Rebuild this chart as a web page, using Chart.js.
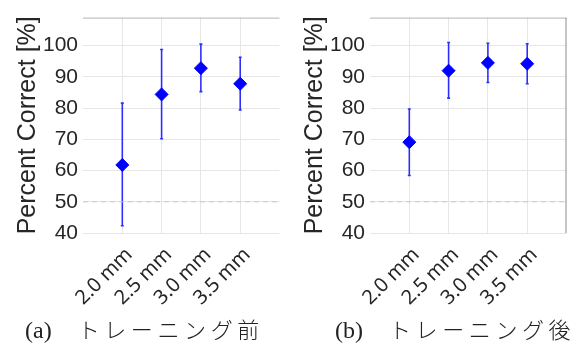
<!DOCTYPE html>
<html>
<head>
<meta charset="utf-8">
<script src="https://cdn.jsdelivr.net/npm/chart.js@4"></script>
<style>
  body { margin: 0; background: #fff; width: 574px; height: 349px; position: relative; overflow: hidden; }
  canvas { position: absolute; top: 0; }
  #chartA { left: 0; }
  #chartB { left: 287px; }
  .caption { position: absolute; top: 312px; font: 24px "Liberation Serif", "Noto Sans CJK JP", serif; color: #222; white-space: nowrap; }
  .caption .jp { font-family: "Noto Sans CJK JP", sans-serif; font-size: 22px; font-weight: 300; letter-spacing: 4.6px; margin-left: 26px; }
  #capA { left: 25px; }
  #capB { left: 335px; }
</style>
</head>
<body>
<canvas id="chartA" width="287" height="349"></canvas>
<canvas id="chartB" width="287" height="349"></canvas>
<div class="caption" id="capA">(a)<span class="jp">トレーニング前</span></div>
<div class="caption" id="capB">(b)<span class="jp">トレーニング後</span></div>
<script>
// dot diameters tested
const sizes = ["2.0 mm", "2.5 mm", "3.0 mm", "3.5 mm"];

// (a) before training
const beforeMean = [61.8, 84.4, 92.8, 87.8];
const beforeLow = [42.3, 70.2, 85.3, 79.4];
const beforeHigh = [81.6, 98.8, 100.5, 96.3];

// (b) after training
const afterMean = [69.1, 92.0, 94.5, 94.2];
const afterLow = [58.4, 83.2, 88.2, 87.8];
const afterHigh = [79.7, 101.0, 100.8, 100.6];

const yTicks = [40, 50, 60, 70, 80, 90, 100];
const chanceLevel = 50;

const BLUE = "#0000ff";
const TEXT = "#262626";

// vertical error bars, drawn under the markers
const errorBars = {
  id: "errorBars",
  beforeDatasetsDraw(chart, args, opts) {
    const { ctx, scales: { x, y } } = chart;
    ctx.save();
    ctx.strokeStyle = "rgba(0,0,255,0.8)";
    ctx.lineWidth = 1.6;
    opts.low.forEach((lo, i) => {
      const px = x.getPixelForValue(i + 1);
      const top = y.getPixelForValue(opts.high[i]);
      const bot = y.getPixelForValue(lo);
      ctx.beginPath();
      ctx.moveTo(px, top);
      ctx.lineTo(px, bot);
      ctx.moveTo(px - 1.5, top);
      ctx.lineTo(px + 1.5, top);
      ctx.moveTo(px - 1.5, bot);
      ctx.lineTo(px + 1.5, bot);
      ctx.stroke();
    });
    ctx.restore();
  }
};

// thin box edges like the matlab axes
const frame = {
  id: "frame",
  afterDraw(chart, args, opts) {
    const { ctx, chartArea: a } = chart;
    ctx.save();
    ctx.lineWidth = 1;
    ctx.strokeStyle = "#b4b4b4";
    ctx.beginPath();
    ctx.moveTo(a.left, a.top + 0.5);
    ctx.lineTo(a.right, a.top + 0.5);
    ctx.stroke();
    if (opts.right) {
      ctx.strokeStyle = "#8c8c8c";
      ctx.beginPath();
      ctx.moveTo(a.right - 0.5, a.top);
      ctx.lineTo(a.right - 0.5, a.bottom);
      ctx.stroke();
    }
    ctx.restore();
  }
};

function makeChart(id, mean, low, high, rightEdge) {
  return new Chart(document.getElementById(id), {
    type: "scatter",
    data: {
      datasets: [
        {
          type: "line",
          data: [{ x: 0, y: chanceLevel }, { x: sizes.length + 1, y: chanceLevel }],
          borderColor: "#c8c8c8",
          borderWidth: 1,
          borderDash: [5, 4],
          pointRadius: 0,
          order: 2
        },
        {
          data: mean.map((v, i) => ({ x: i + 1, y: v })),
          pointStyle: "rectRot",
          pointRadius: 6.5,
          backgroundColor: BLUE,
          borderColor: BLUE,
          order: 1
        }
      ]
    },
    options: {
      responsive: false,
      animation: false,
      devicePixelRatio: 1,
      layout: { padding: { top: 6, right: 5, left: 0, bottom: 0 } },
      plugins: {
        legend: { display: false },
        tooltip: { enabled: false },
        errorBars: { low, high },
        frame: { right: rightEdge }
      },
      scales: {
        x: {
          type: "linear",
          min: 0,
          max: sizes.length + 1,
          afterBuildTicks: (axis) => { axis.ticks = sizes.map((s, i) => ({ value: i + 1 })); },
          // tall axis box so rotated labels are not clipped; plot area ends at y=233
          afterFit: (axis) => { axis.height = 116; },
          grid: { color: "#e6e6e6", drawTicks: false },
          border: { display: false },
          ticks: {
            autoSkip: false,
            minRotation: 45,
            maxRotation: 45,
            padding: 10,
            labelOffset: 7,
            color: TEXT,
            font: { family: "Noto Sans", size: 20 },
            callback: (v) => sizes[v - 1] || ""
          }
        },
        y: {
          min: 40,
          max: 109,
          afterBuildTicks: (axis) => { axis.ticks = yTicks.map(v => ({ value: v })); },
          afterFit: (axis) => { axis.width = 83; },
          grid: { color: "#e6e6e6", drawTicks: false },
          border: { display: false },
          ticks: {
            padding: 5,
            color: TEXT,
            font: { family: "Liberation Sans", size: 21 }
          },
          title: {
            display: true,
            text: "Percent Correct [%]",
            color: TEXT,
            padding: { top: 13, bottom: 0 },
            font: { family: "Liberation Sans", size: 25, lineHeight: 1.2 }
          }
        }
      }
    },
    plugins: [errorBars, frame]
  });
}

makeChart("chartA", beforeMean, beforeLow, beforeHigh, false);
makeChart("chartB", afterMean, afterLow, afterHigh, true);
</script>
</body>
</html>
